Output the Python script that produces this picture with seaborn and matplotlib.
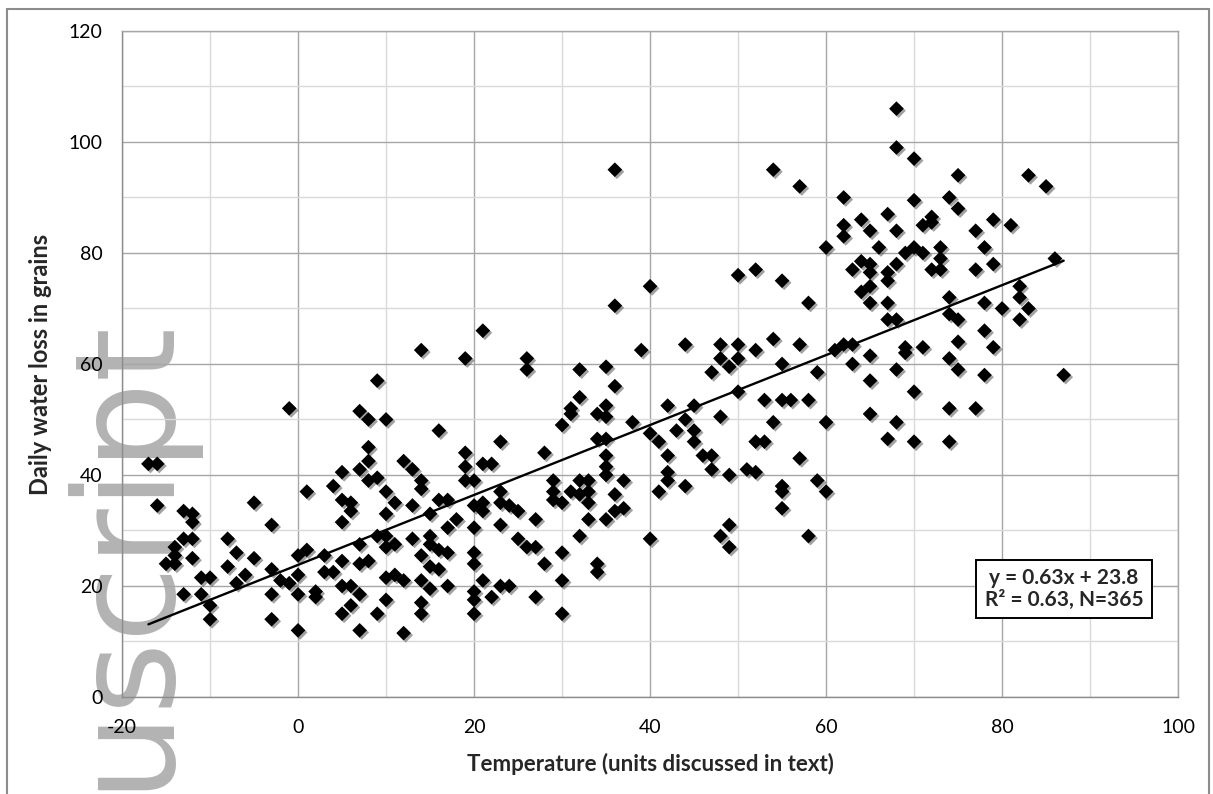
import numpy as np
import matplotlib.pyplot as plt
import matplotlib.patheffects as pe
from matplotlib.patches import Rectangle
from matplotlib.ticker import MultipleLocator
import seaborn as sns

# Data, grouped by region of the chart
cold_temp = [-17, -16, -16, -13, -12, -12, -14, -13, -12, -14, -15, -14, -12, -11, -10, -13, -11, -10, -10,
             -8, -7, -5, -8, -6, -7, -5, -3, -3, -3, -3, 0, -2, -1, 0, 0, 0, 1, 1, 2, 2, 3, 3, 4, 4, 5, 5,
             6, 6, 5, 5, 5, 6, 5, 6, 7, 7, 8, 8, 7, 8, 8, 9, 10, 11, 10, 9, 10, 11, 10, 10, 11, 12, 7, 10,
             9, 7, 12, 12, 13, 14, 14, 13, 13, 14, 14, 14, 14, 15, 16, 17, 18, 15, 15, 16, 17, 15, 16, 17,
             15, 17]
cold_loss = [42, 42, 34.5, 33.5, 33, 31.5, 27, 28.5, 28.5, 25.5, 24, 24, 25, 21.5, 21.5, 18.5, 18.5, 16.5, 14,
             28.5, 26, 25, 23.5, 22, 20.5, 35, 31, 23, 18.5, 14, 12, 21, 20.5, 22, 18.5, 25.5, 26.5, 37, 19,
             18, 25.5, 22.5, 22.5, 38, 40.5, 35.5, 35, 33.5, 31.5, 24.5, 20, 20, 15, 16.5, 27.5, 24, 24.5,
             45, 41, 42.5, 39, 39.5, 37, 35, 33, 29, 29, 27.5, 27, 21.5, 22, 21, 18.5, 17.5, 15, 12, 11.5,
             42.5, 41, 39, 37.5, 34.5, 28.5, 25.5, 21, 17, 15, 33, 35.5, 35.5, 32, 29, 27.5, 26.5, 26,
             23.5, 23, 20, 19.5, 30.5]

mild_temp = [23, 19, 19, 21, 22, 19, 20, 28, 20, 21, 21, 23, 23, 24, 25, 20, 23, 27, 25, 26, 27, 28, 20, 20,
             21, 23, 24, 20, 20, 22, 27, 20, 30, 30, 30, 29, 29, 29, 30, 32, 33, 31, 32, 33, 33, 33, 32, 34,
             34, 35, 35, 35, 36, 37, 35, 36, 37, 40, 42, 42, 42, 41, 44, 46, 47, 47, 49, 49, 48, 49, 51, 52,
             55, 55,
             -1, 9, 7, 8, 10, 14, 16, 19, 21, 26, 26, 32, 32, 31, 31, 30, 34]
mild_loss = [46, 44, 41.5, 42, 42, 39, 39, 44, 34.5, 35, 33.5, 37, 35, 34.5, 33.5, 30.5, 31, 32, 28.5, 27, 27,
             24, 26, 24, 21, 20, 20, 19, 17.5, 18, 18, 15, 26, 21, 15, 39, 37, 35.5, 35, 39, 39, 37, 36.5,
             37, 35, 32, 29, 24, 22.5, 43.5, 41.5, 40, 36.5, 39, 32, 33.5, 34, 28.5, 43.5, 40.5, 39, 37,
             38, 43.5, 43.5, 41, 40, 31, 29, 27, 41, 40.5, 37, 34,
             52, 57, 51.5, 50, 50, 62.5, 48, 61, 66, 61, 59, 59, 54, 52, 51, 49, 51]

warm_temp = [36, 40, 39, 35, 36, 35, 35, 38, 34, 35, 40, 41, 42, 43, 44, 45, 45, 45, 44, 47, 48, 48, 49, 50,
             50, 48, 50, 52, 54, 55, 57, 59, 53, 55, 56, 58, 54, 52, 53, 60, 50, 52, 55, 58, 61, 62, 63, 63,
             65, 65, 65, 68, 68, 67, 69, 67, 68, 65, 67, 64, 65, 67]
warm_loss = [70.5, 74, 62.5, 59.5, 56, 52.5, 50.5, 49.5, 46.5, 46.5, 47.5, 46, 52.5, 48, 50, 52.5, 48, 46,
             63.5, 58.5, 63.5, 61, 59.5, 63.5, 61, 50.5, 55, 62.5, 64.5, 60, 63.5, 58.5, 53.5, 53.5, 53.5,
             53.5, 49.5, 46, 46, 49.5, 76, 77, 75, 71, 62.5, 63.5, 63.5, 60, 61.5, 57, 51, 59, 49.5, 46.5,
             63, 68, 68, 71, 71, 73, 74, 75]

hot_temp = [36, 68, 68, 70, 54, 57, 75, 83, 85, 62, 70, 74, 75, 62, 62, 64, 65, 67, 68, 60, 66, 71, 72, 72,
            77, 79, 81, 78, 79, 77, 86, 70, 69, 71, 73, 73, 73, 72, 68, 67, 63, 64, 65, 65,
            70, 69, 71, 70, 74, 74, 75, 75, 74, 75, 74, 74, 77, 78, 78, 79, 78, 80, 82, 82, 83, 82, 87,
            57, 55, 59, 60, 58]
hot_loss = [95, 106, 99, 97, 95, 92, 94, 94, 92, 90, 89.5, 90, 88, 85, 83, 86, 84, 87, 84, 81, 81, 85, 85.5,
            86.5, 84, 86, 85, 81, 78, 77, 79, 81, 80, 80, 81, 79, 77, 77, 78, 76.5, 77, 78.5, 78, 76.5,
            55, 62, 63, 46, 72, 69, 68, 64, 61, 59, 52, 46, 52, 71, 66, 63, 58, 70, 74, 72, 70, 68, 58,
            43, 38, 39, 37, 29]

temps = np.array(cold_temp + mild_temp + warm_temp + hot_temp, dtype=float)
water_loss = np.array(cold_loss + mild_loss + warm_loss + hot_loss, dtype=float)

# linear trend as printed on the chart
fit_slope = 0.63
fit_intercept = 23.8
fit_label = 'y = 0.63x + 23.8\nR\u00b2 = 0.63, N=365'

sns.set_theme(style='white')
plt.rcParams['font.family'] = ['Lato', 'DejaVu Sans']
plt.rcParams['axes.unicode_minus'] = False

fig = plt.figure(figsize=(12.13, 7.94), dpi=100)
fig.patch.set_facecolor('white')
ax = fig.add_axes([0.1006, 0.1222, 0.8706, 0.8388])
ax.set_facecolor('none')

# grey "uscript" watermark behind the chart
fig.text(0.1348, 0.6040, 'uscript', rotation=90, rotation_mode='anchor', ha='right', va='baseline',
         fontsize=100, color='#b3b3b3', family='DejaVu Sans', zorder=-5)

sns.scatterplot(x=temps, y=water_loss, marker='D', s=56, color='black', edgecolor='black',
                linewidth=0, ax=ax, zorder=3)
ax.collections[0].set_path_effects([pe.SimplePatchShadow(offset=(1.5, -1.5), shadow_rgbFace='#444444',
                                                         alpha=0.5), pe.Normal()])

line_x = np.array([temps.min(), temps.max()])
ax.plot(line_x, fit_slope * line_x + fit_intercept, color='black', lw=1.7, zorder=4)

ax.set_xlim(-20, 100)
ax.set_ylim(0, 120)
ax.set_xticks(np.arange(-20, 101, 20))
ax.set_yticks(np.arange(0, 121, 20))
ax.xaxis.set_minor_locator(MultipleLocator(10))
ax.yaxis.set_minor_locator(MultipleLocator(10))
ax.grid(which='major', color='#a6a6a6', lw=1.0, zorder=0)
ax.grid(which='minor', color='#d9d9d9', lw=1.0, zorder=0)
ax.set_axisbelow(True)
ax.tick_params(which='minor', length=0)
ax.tick_params(which='major', direction='out', length=5, width=1, color='#8c8c8c', labelsize=14,
               labelcolor='black')
ax.tick_params(axis='x', pad=11)
ax.tick_params(axis='y', pad=9)
for side in ['left', 'bottom', 'top', 'right']:
    ax.spines[side].set_color('#a6a6a6')
    ax.spines[side].set_linewidth(1.0)
ax.spines['left'].set_color('#8c8c8c')
ax.spines['bottom'].set_color('#8c8c8c')

ax.set_xlabel('Temperature (units discussed in text)', fontsize=16, fontweight='bold')
ax.set_ylabel('Daily water loss in grains', fontsize=17, fontweight='bold')
ax.xaxis.set_label_coords(0.5, -0.084)
ax.yaxis.set_label_coords(-0.066, 0.5)

ax.text(0.892, 0.162, fit_label, transform=ax.transAxes, ha='center', va='center', fontsize=15,
        fontweight='bold', linespacing=1.1, zorder=6,
        bbox=dict(boxstyle='square,pad=0.4', fc='white', ec='black', lw=1.4))

# outer chart frame
fig.patches.append(Rectangle((0.006, -0.01), 0.991, 0.999, transform=fig.transFigure, fill=False,
                             ec='#8c8c8c', lw=1.5))

fig.savefig('out.png', dpi=100)
